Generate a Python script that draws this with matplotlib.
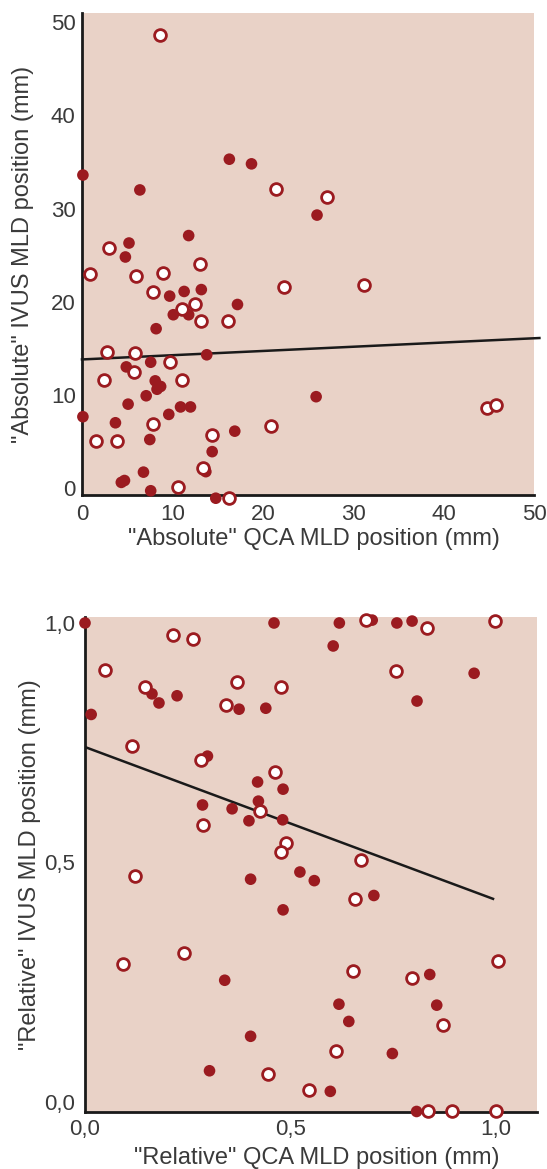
import matplotlib
matplotlib.use("Agg")
import matplotlib.pyplot as plt

# =============================
# DATA
# =============================
# top panel: "absolute" positions (mm)
abs_filled_x = [0.1, 16.3, 18.75, 6.4, 11.8, 5.2, 4.8, 26.0, 25.9, 9.7, 11.3, 13.2, 17.2,
                10.1, 11.8, 8.2, 13.8, 7.6, 4.9, 8.1, 8.7, 8.3, 7.1, 5.1, 10.9, 12.0, 9.6,
                0.1, 3.7, 16.9, 7.5, 14.4, 13.7, 6.8, 4.35, 4.7, 7.6, 14.8]
abs_filled_y = [33.6, 35.3, 34.8, 32.0, 27.1, 26.3, 24.8, 29.3, 9.8, 20.6, 21.1, 21.3, 19.7,
                18.6, 18.6, 17.1, 14.3, 13.5, 13.0, 11.5, 10.9, 10.6, 9.9, 9.0, 8.7, 8.7, 7.9,
                7.65, 7.0, 6.1, 5.2, 3.9, 1.75, 1.7, 0.6, 0.8, -0.3, -1.1]
abs_open_x = [8.66, 21.5, 27.1, 3.0, 13.05, 0.9, 5.95, 9.0, 22.4, 31.2, 20.9, 44.85, 45.76,
              7.8, 12.5, 11.1, 13.2, 16.1, 2.8, 5.9, 9.7, 5.8, 2.4, 11.1, 7.8, 14.4, 1.5,
              3.9, 13.4, 10.6, 16.3]
abs_open_y = [48.6, 32.1, 31.2, 25.8, 24.0, 23.0, 22.8, 23.1, 21.6, 21.8, 6.6, 8.55, 8.94,
              21.0, 19.7, 19.2, 17.9, 17.9, 14.6, 14.5, 13.5, 12.5, 11.6, 11.6, 6.9, 5.7, 5.0,
              5.0, 2.1, 0.14, -1.1]
abs_fit_x = [0.0, 50.6]
abs_fit_y = [13.8, 16.1]

# bottom panel: "relative" positions
rel_filled_x = [0.0, 0.46, 0.163, 0.18, 0.224, 0.375, 0.44, 0.015, 0.298, 0.42, 0.422, 0.286,
                0.358, 0.399, 0.403, 0.619, 0.699, 0.759, 0.796, 0.604, 0.947, 0.808, 0.482,
                0.481, 0.523, 0.558, 0.703, 0.482, 0.839, 0.618, 0.856, 0.642, 0.748, 0.597,
                0.807, 0.34, 0.403, 0.303]
rel_filled_y = [1.0, 1.0, 0.852, 0.833, 0.848, 0.82, 0.822, 0.809, 0.722, 0.668, 0.628, 0.62,
                0.612, 0.587, 0.465, 1.0, 1.006, 1.0, 1.004, 0.952, 0.895, 0.837, 0.653,
                0.589, 0.48, 0.462, 0.431, 0.401, 0.266, 0.204, 0.202, 0.168, 0.101, 0.022,
                -0.02, 0.254, 0.137, 0.065]
rel_open_x = [0.214, 0.262, 0.049, 0.147, 0.37, 0.343, 0.476, 0.114, 0.283, 0.463, 0.427,
              0.286, 0.122, 0.684, 0.832, 0.998, 0.756, 0.488, 0.478, 0.672, 0.656, 1.006,
              0.653, 0.796, 0.871, 0.612, 0.446, 0.545, 0.835, 0.894, 1.0, 0.24, 0.093]
rel_open_y = [0.975, 0.967, 0.902, 0.867, 0.876, 0.828, 0.866, 0.743, 0.713, 0.689, 0.607,
              0.579, 0.472, 1.006, 0.99, 1.004, 0.9, 0.54, 0.521, 0.505, 0.423, 0.295,
              0.273, 0.258, 0.161, 0.106, 0.058, 0.024, -0.02, -0.02, -0.018, 0.31, 0.287]
rel_fit_x = [0.0, 0.993]
rel_fit_y = [0.741, 0.424]

abs_ticks = [0, 10, 20, 30, 40, 50]
rel_ticks = [0.0, 0.5, 1.0]
rel_ticklabels = ["0,0", "0,5", "1,0"]

# =============================
# STYLE
# =============================
BG = "#e9d2c7"
RED = "#9b1b20"
TXT = "#3a3a3a"
plt.rcParams["font.family"] = ["Liberation Sans", "DejaVu Sans"]

fig = plt.figure(figsize=(5.47, 11.69), dpi=100)


def style_axes(ax, xpad, ypad):
    ax.set_facecolor(BG)
    for s in ("top", "right"):
        ax.spines[s].set_visible(False)
    for s in ("left", "bottom"):
        ax.spines[s].set_linewidth(2.0)
        ax.spines[s].set_color("#1a1a1a")
    ax.tick_params(length=0, labelsize=16, labelcolor=TXT)
    ax.tick_params(axis="x", pad=xpad)
    ax.tick_params(axis="y", pad=ypad)


def draw_points(ax, fx, fy, ox, oy):
    ax.scatter(fx, fy, s=70, color=RED, edgecolors="none", zorder=3, clip_on=False)
    ax.scatter(ox, oy, s=72, facecolors="white", edgecolors=RED, linewidths=2.0,
               zorder=4, clip_on=False)


# top panel
ax1 = fig.add_axes([0.1499, 0.5766, 0.8263, 0.4123])
style_axes(ax1, 6.5, 4.5)
ax1.plot(abs_fit_x, abs_fit_y, color="#1a1a1a", lw=1.8, zorder=2, clip_on=False)
draw_points(ax1, abs_filled_x, abs_filled_y, abs_open_x, abs_open_y)
ax1.set_xlim(0, 50)
ax1.set_ylim(-0.75, 51)
ax1.set_xticks(abs_ticks)
ax1.set_yticks(abs_ticks)
ax1.set_xlabel('"Absolute" QCA MLD position (mm)', fontsize=17, color=TXT)
ax1.set_ylabel('"Absolute" IVUS MLD position (mm)', fontsize=17, color=TXT)
ax1.xaxis.set_label_coords(0.514, -0.068)
ax1.yaxis.set_label_coords(-0.106, 0.5)

# bottom panel
ax2 = fig.add_axes([0.1554, 0.0488, 0.8263, 0.4234])
style_axes(ax2, 5, 7)
ax2.plot(rel_fit_x, rel_fit_y, color="#1a1a1a", lw=1.8, zorder=2)
draw_points(ax2, rel_filled_x, rel_filled_y, rel_open_x, rel_open_y)
ax2.set_xlim(0, 1.1)
ax2.set_ylim(-0.021, 1.0125)
ax2.set_xticks(rel_ticks)
ax2.set_xticklabels(rel_ticklabels)
ax2.set_yticks(rel_ticks)
ax2.set_yticklabels(rel_ticklabels)
ax2.set_xlabel('"Relative" QCA MLD position (mm)', fontsize=17, color=TXT)
ax2.set_ylabel('"Relative" IVUS MLD position (mm)', fontsize=17, color=TXT)
ax2.xaxis.set_label_coords(0.513, -0.071)
ax2.yaxis.set_label_coords(-0.097, 0.5)

fig.savefig("out.png", dpi=100)
